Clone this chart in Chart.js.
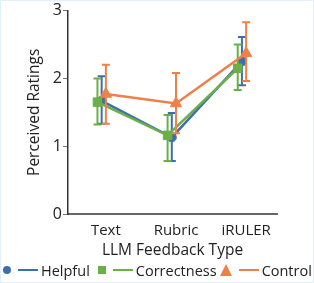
<!DOCTYPE html>
<html>
<head>
<meta charset="utf-8">
<script src="https://cdn.jsdelivr.net/npm/chart.js@4"></script>
<style>
  html, body { margin: 0; padding: 0; background: #fff; }
  #wrap { position: relative; width: 314px; height: 283px; font-family: "Open Sans", sans-serif; }
  #chart { position: absolute; left: 0; top: 0; }
  #frame { position: absolute; left: 0; top: 0; width: 312px; height: 281px; border: 1px solid #e2f0fa; pointer-events: none; }
  #legend { position: absolute; left: 0; top: 260px; height: 20px; display: flex; align-items: center; font-size: 14.5px; color: #222; white-space: nowrap; }
  .mk { display: inline-block; }
  .ln { display: inline-block; height: 2px; margin: 0 3px 0 7px; }
</style>
</head>
<body>
<div id="wrap">
  <canvas id="chart" width="314" height="283"></canvas>
  <div id="legend"></div>
  <div id="frame"></div>
</div>
<script>
// Chart data

const categories = ['Text', 'Rubric', 'iRULER'];
const yTicks = [0, 1, 2, 3];

const helpful = [1.67, 1.13, 2.25];
const helpfulLow = [1.33, 0.78, 1.90];
const helpfulHigh = [2.03, 1.49, 2.61];

const correctness = [1.65, 1.16, 2.15];
const correctnessLow = [1.32, 0.78, 1.83];
const correctnessHigh = [2.00, 1.46, 2.50];

const control = [1.77, 1.63, 2.37];
const controlLow = [1.33, 1.19, 1.96];
const controlHigh = [2.20, 2.08, 2.83];

const BLUE = '#3d6fae';
const GREEN = '#6ab046';
const ORANGE = '#ef8049';

function makeSeries(label, values, low, high, color, shape, radius, dodge, order) {
    return {
        label: label,
        data: values.map((v, i) => ({ x: i + dodge, y: v })),
        errLow: low,
        errHigh: high,
        borderColor: color,
        backgroundColor: color,
        borderWidth: 2.5,
        pointStyle: shape,
        pointRadius: radius,
        pointBorderWidth: 1,
        tension: 0,
        order: order
    };
}

// draws the error bars of each series just before its line
const errorBars = {
    id: 'errorBars',
    beforeDatasetDraw(chart, args) {
        const ds = chart.data.datasets[args.index];
        const xs = chart.scales.x, ys = chart.scales.y;
        const ctx = chart.ctx;
        ctx.save();
        ctx.strokeStyle = ds.borderColor;
        ctx.lineWidth = 2;
        ds.data.forEach((p, i) => {
            const px = xs.getPixelForValue(p.x);
            const lo = ys.getPixelForValue(ds.errLow[i]);
            const hi = ys.getPixelForValue(ds.errHigh[i]);
            ctx.beginPath();
            ctx.moveTo(px, lo); ctx.lineTo(px, hi);
            ctx.moveTo(px - 4, lo); ctx.lineTo(px + 4, lo);
            ctx.moveTo(px - 4, hi); ctx.lineTo(px + 4, hi);
            ctx.stroke();
        });
        ctx.restore();
    }
};

const datasets = [
    makeSeries('Helpful', helpful, helpfulLow, helpfulHigh, BLUE, 'circle', 4.5, -0.06, 2),
    makeSeries('Correctness', correctness, correctnessLow, correctnessHigh, GREEN, 'rect', 6, -0.12, 1),
    makeSeries('Control', control, controlLow, controlHigh, ORANGE, 'triangle', 6.5, 0, 0)
];

new Chart(document.getElementById('chart'), {
    type: 'line',
    data: { datasets: datasets },
    options: {
        responsive: false,
        animation: false,
        events: [],
        layout: { padding: { top: 9, right: 37, left: 0, bottom: 0 } },
        plugins: { legend: { display: false }, tooltip: { enabled: false } },
        scales: {
            x: {
                type: 'linear',
                min: -0.54,
                max: 2.44,
                afterFit: s => { s.height = 69; },
                afterBuildTicks: s => { s.ticks = categories.map((c, i) => ({ value: i })); },
                grid: { display: false },
                border: { color: '#666', width: 2 },
                ticks: {
                    padding: 0,
                    color: '#222',
                    font: { family: 'Open Sans', size: 15 },
                    callback: v => categories[v]
                },
                title: {
                    display: true,
                    text: 'LLM Feedback Type',
                    color: '#222',
                    font: { family: 'Open Sans', size: 15.5 },
                    padding: { top: 0, bottom: 23 }
                }
            },
            y: {
                min: 0,
                max: 3,
                afterFit: s => { s.width = 68; },
                afterBuildTicks: s => { s.ticks = yTicks.map(v => ({ value: v })); },
                grid: { drawOnChartArea: false, tickLength: 5, color: '#777' },
                border: { color: '#333', width: 1.5 },
                ticks: {
                    padding: 1,
                    color: '#222',
                    font: { family: 'Open Sans', size: 16 }
                },
                title: {
                    display: true,
                    text: 'Perceived Ratings',
                    color: '#222',
                    font: { family: 'Open Sans', size: 15.5 },
                    padding: { top: 25, bottom: 0 }
                }
            }
        }
    },
    plugins: [errorBars]
});

// legend: marker, line, label
const legend = document.getElementById('legend');
const markers = {
    circle: c => `<span class="mk" style="width:8px;height:8px;border-radius:50%;background:${c};margin-left:3px"></span>`,
    rect: c => `<span class="mk" style="width:8px;height:8px;background:${c};margin-left:8px"></span>`,
    triangle: c => `<span class="mk" style="width:0;height:0;border-left:6.5px solid transparent;border-right:6.5px solid transparent;border-bottom:12px solid ${c};margin-left:3px"></span>`
};
datasets.forEach(ds => {
    legend.insertAdjacentHTML('beforeend',
        markers[ds.pointStyle](ds.borderColor) +
        `<span class="ln" style="width:20px;background:${ds.borderColor}"></span>` +
        `<span>${ds.label}</span>`);
});
</script>
</body>
</html>
